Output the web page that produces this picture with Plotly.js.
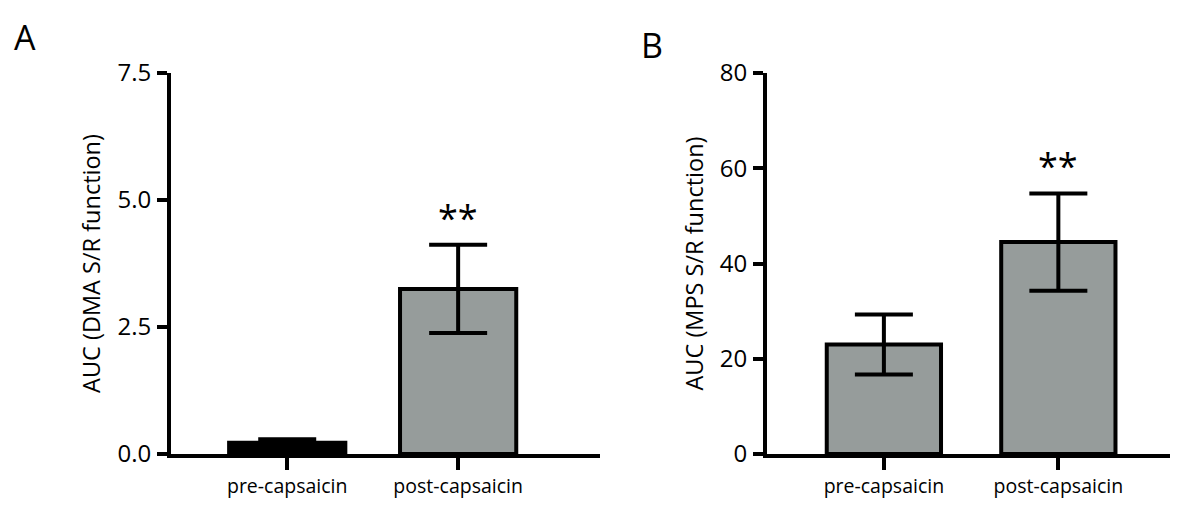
<!DOCTYPE html>
<html><head><meta charset="utf-8">
<script src="https://cdn.plot.ly/plotly-3.0.1.min.js"></script>
<style>body{margin:0;background:#fff}#c{width:1184px;height:518px}</style>
</head><body><div id="c"></div>
<script>
const categories = ["pre-capsaicin", "post-capsaicin"];
const dmaMean = [0.22, 3.25];
const dmaErr = [0.07, 0.87];
const mpsMean = [23.0, 44.5];
const mpsErr = [6.3, 10.2];
const dmaTicks = [0, 2.5, 5.0, 7.5];
const mpsTicks = [0, 20, 40, 60, 80];
const sigLabels = ["", "**"];

const W = 1184, H = 518;
const fontFam = "Open Sans, sans-serif";
const gray = "#969c9b";

function barTrace(y, e, colors, xa, ya, w) {
  return {
    type: "bar", x: categories, y: y, xaxis: xa, yaxis: ya,
    width: w,
    marker: {color: colors, line: {color: "#000", width: 4}},
    error_y: {type: "data", array: e, visible: true, color: "#000", thickness: 4, width: 29},
    hoverinfo: "none"
  };
}

const traces = [
  barTrace(dmaMean, dmaErr, ["#000", gray], "x", "y", 0.68),
  barTrace(mpsMean, mpsErr, [gray, gray], "x2", "y2", 0.655)
];

const axY = (domY) => ({
  domain: domY, showgrid: false, zeroline: false, showline: true, linewidth: 4, linecolor: "#000",
  ticks: "outside", ticklen: 10, tickwidth: 4, tickcolor: "#000",
  tickfont: {family: fontFam, size: 24, color: "#000"}, ticklabelstandoff: 1
});
const axX = (domX) => ({
  domain: domX, showgrid: false, zeroline: false, showline: true, linewidth: 4, linecolor: "#000",
  ticks: "outside", ticklen: 12, tickwidth: 4, tickcolor: "#000", type: "category",
  tickfont: {family: fontFam, size: 19.5, color: "#000"}
});

const yDom = [(H - 454) / H, (H - 73) / H];

const ann = [];
sigLabels.forEach((s, i) => {
  if (!s) return;
  ann.push({xref: "x", yref: "y", x: categories[i], y: dmaMean[i] + dmaErr[i], text: s, showarrow: false,
    yanchor: "bottom", yshift: 1, font: {family: fontFam, size: 36, color: "#000"}});
  ann.push({xref: "x2", yref: "y2", x: categories[i], y: mpsMean[i] + mpsErr[i], text: s, showarrow: false,
    yanchor: "bottom", yshift: 1, font: {family: fontFam, size: 36, color: "#000"}});
});
ann.push({xref: "paper", yref: "paper", x: 12 / W, y: (H - 37) / H, xanchor: "left", yanchor: "middle",
  text: "A", showarrow: false, font: {family: fontFam, size: 34, color: "#000"}});
ann.push({xref: "paper", yref: "paper", x: 639 / W, y: (H - 45) / H, xanchor: "left", yanchor: "middle",
  text: "B", showarrow: false, font: {family: fontFam, size: 34, color: "#000"}});

const layout = {
  width: W, height: H, margin: {l: 0, r: 0, t: 0, b: 0},
  paper_bgcolor: "#fff", plot_bgcolor: "#fff", showlegend: false,
  xaxis: Object.assign(axX([171 / W, 600 / W]), {anchor: "y", range: [-0.68, 1.83]}),
  yaxis: Object.assign(axY(yDom), {anchor: "x", range: [0, 7.5], tickvals: dmaTicks, tickformat: ".1f",
    title: {text: "AUC (DMA S/R function)", font: {family: fontFam, size: 23.5, color: "#000"}, standoff: 11}}),
  xaxis2: Object.assign(axX([767 / W, 1170 / W]), {anchor: "y2", range: [-0.67, 1.64]}),
  yaxis2: Object.assign(axY(yDom), {anchor: "x2", range: [0, 80], tickvals: mpsTicks,
    title: {text: "AUC (MPS S/R function)", font: {family: fontFam, size: 23.5, color: "#000"}, standoff: 11}}),
  annotations: ann
};

Plotly.newPlot("c", traces, layout, {staticPlot: true});
</script></body></html>
